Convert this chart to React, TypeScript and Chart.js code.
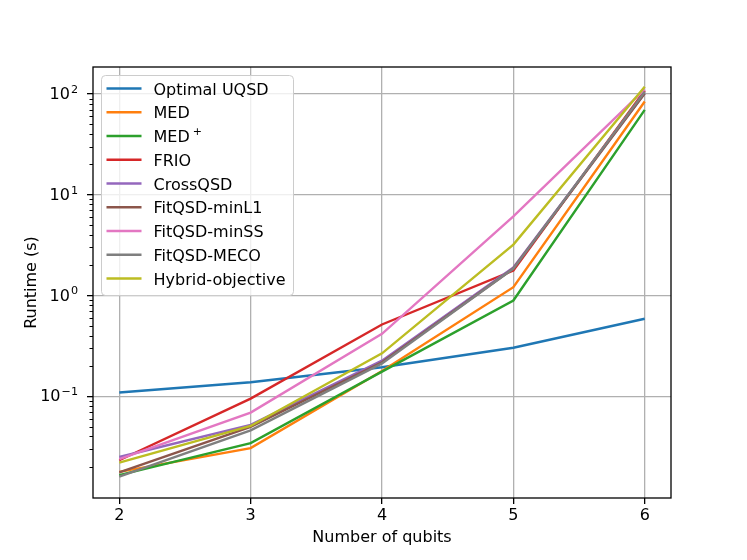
import { useEffect, useRef } from "react";
import { Chart, registerables } from "chart.js";

Chart.register(...registerables);

const qubits = [2, 3, 4, 5, 6];
const seriesNames = [
  "Optimal UQSD",
  "MED",
  "MED^+",
  "FRIO",
  "CrossQSD",
  "FitQSD-minL1",
  "FitQSD-minSS",
  "FitQSD-MECO",
  "Hybrid-objective",
];
const optimalUQSD = [0.109, 0.138, 0.194, 0.303, 0.588];
const med = [0.0178, 0.0306, 0.178, 1.21, 84];
const medPlus = [0.0165, 0.0343, 0.176, 0.892, 69.5];
const frio = [0.0232, 0.0948, 0.516, 1.77, 108];
const crossQSD = [0.025, 0.052, 0.226, 1.9, 102];
const fitMinL1 = [0.0176, 0.0497, 0.218, 1.85, 101];
const fitMinSS = [0.0238, 0.069, 0.417, 6.1, 111];
const fitMECO = [0.016, 0.046, 0.212, 1.85, 105];
const hybrid = [0.022, 0.0508, 0.267, 3.2, 118];
const seriesValues = [optimalUQSD, med, medPlus, frio, crossQSD, fitMinL1, fitMinSS, fitMECO, hybrid];
const seriesColors = [
  "#1f77b4",
  "#ff7f0e",
  "#2ca02c",
  "#d62728",
  "#9467bd",
  "#8c564b",
  "#e377c2",
  "#7f7f7f",
  "#bcbd22",
];
const yTickValues = [0.1, 1, 10, 100];
const yTickBase = "10";
const yTickExponents = ["−1", "0", "1", "2"];
const xTickValues = [2, 3, 4, 5, 6];

const FONT = "'DejaVu Sans', sans-serif";

// draws "base^sup" text (sup as raised smaller text); returns width
function drawMath(ctx: CanvasRenderingContext2D, text: string, x: number, y: number, size: number, measureOnly = false) {
  const parts = text.split("^");
  ctx.font = `${size}px ${FONT}`;
  const bw = ctx.measureText(parts[0]).width;
  let total = bw;
  let supW = 0;
  if (parts.length > 1) {
    ctx.font = `${size * 0.7}px ${FONT}`;
    supW = ctx.measureText(parts[1]).width;
    total += supW + 1;
  }
  if (measureOnly) return total;
  ctx.font = `${size}px ${FONT}`;
  ctx.fillText(parts[0], x, y);
  if (parts.length > 1) {
    ctx.font = `${size * 0.7}px ${FONT}`;
    ctx.fillText(parts[1], x + bw + 1, y - size * 0.38);
  }
  return total;
}

const framePlugin = {
  id: "frameAndMinor",
  afterDatasetsDraw(chart: any) {
    const { ctx, chartArea } = chart;
    const ys = chart.scales.y;
    ctx.save();
    ctx.strokeStyle = "#000";
    ctx.lineWidth = 1;
    for (let k = -3; k <= 3; k++) {
      for (let m = 2; m <= 9; m++) {
        const v = m * Math.pow(10, k);
        if (v <= ys.min || v >= ys.max) continue;
        const y = Math.round(ys.getPixelForValue(v)) + 0.5;
        ctx.beginPath();
        ctx.moveTo(chartArea.left - 3.5, y);
        ctx.lineTo(chartArea.left, y);
        ctx.stroke();
      }
    }
    ctx.lineWidth = 1.3;
    ctx.strokeRect(chartArea.left, chartArea.top, chartArea.right - chartArea.left, chartArea.bottom - chartArea.top);
    // y tick labels with superscript exponents
    ctx.fillStyle = "#000";
    ctx.textAlign = "left";
    ctx.textBaseline = "alphabetic";
    for (let i = 0; i < yTickValues.length; i++) {
      const y = ys.getPixelForValue(yTickValues[i]);
      const label = `${yTickBase}^${yTickExponents[i]}`;
      const w = drawMath(ctx, label, 0, 0, 16, true) as number;
      drawMath(ctx, label, chartArea.left - 15 - w, y + 5, 16);
    }
    ctx.restore();
  },
  afterDraw(chart: any) {
    const { ctx, chartArea } = chart;
    const ds = chart.data.datasets;
    const x0 = chartArea.left + 8.5;
    const y0 = chartArea.top + 8.5;
    const w = 192;
    const h = 220;
    ctx.save();
    ctx.beginPath();
    (ctx as any).roundRect(x0, y0, w, h, 4);
    ctx.fillStyle = "rgba(255,255,255,0.8)";
    ctx.fill();
    ctx.strokeStyle = "#cccccc";
    ctx.lineWidth = 1;
    ctx.stroke();
    ctx.textBaseline = "alphabetic";
    ctx.textAlign = "left";
    for (let i = 0; i < ds.length; i++) {
      const cy = y0 + 13 + i * 23.75;
      ctx.strokeStyle = ds[i].borderColor;
      ctx.lineWidth = 2.4;
      ctx.beginPath();
      ctx.moveTo(x0 + 5, cy);
      ctx.lineTo(x0 + 40, cy);
      ctx.stroke();
      ctx.fillStyle = "#000";
      const parts = String(ds[i].label).split("^");
      ctx.font = `16px ${FONT}`;
      ctx.fillText(parts[0], x0 + 52, cy + 6);
      if (parts.length > 1) {
        const bw = ctx.measureText(parts[0]).width;
        ctx.font = `11px ${FONT}`;
        ctx.fillText(parts[1], x0 + 52 + bw + 3, cy - 1);
      }
    }
    ctx.restore();
  },
};

export default function App() {
  const ref = useRef<HTMLCanvasElement | null>(null);
  useEffect(() => {
    if (!ref.current) return;
    const chart = new Chart(ref.current, {
      type: "line",
      data: {
        datasets: seriesNames.map((name, i) => ({
          label: name,
          data: qubits.map((q, j) => ({ x: q, y: seriesValues[i][j] })),
          borderColor: seriesColors[i],
          backgroundColor: seriesColors[i],
          borderWidth: 2.4,
          pointRadius: 0,
          fill: false,
          tension: 0,
          order: -i,
        })),
      },
      options: {
        responsive: false,
        animation: false,
        devicePixelRatio: 1,
        layout: { padding: { left: 0, top: 67, right: 76, bottom: 0 } },
        plugins: { legend: { display: false }, tooltip: { enabled: false } },
        scales: {
          x: {
            type: "linear",
            min: 1.8,
            max: 6.2,
            afterBuildTicks: (s: any) => {
              s.ticks = xTickValues.map((v) => ({ value: v }));
            },
            afterFit: (s: any) => {
              s.height = 62;
            },
            ticks: {
              color: "#000",
              font: { family: FONT, size: 16 },
              padding: 2,
              maxRotation: 0,
              callback: (v: any) => String(v),
            },
            grid: { color: "#b0b0b0", lineWidth: 1.3, tickColor: "#000", tickLength: 6, tickWidth: 1.3 },
            border: { display: false },
            title: {
              display: true,
              text: "Number of qubits",
              color: "#000",
              font: { family: FONT, size: 16 },
              padding: { top: 0, bottom: 13 },
            },
          },
          y: {
            type: "logarithmic",
            min: 0.0098,
            max: 185,
            afterBuildTicks: (s: any) => {
              s.ticks = yTickValues.map((v) => ({ value: v }));
            },
            afterFit: (s: any) => {
              s.width = 93;
            },
            ticks: {
              color: "rgba(0,0,0,0)",
              font: { family: FONT, size: 16 },
              padding: 8,
              callback: () => "",
            },
            grid: { color: "#b0b0b0", lineWidth: 1.3, tickColor: "#000", tickLength: 6, tickWidth: 1.3 },
            border: { display: false },
            title: {
              display: true,
              text: "Runtime (s)",
              color: "#000",
              font: { family: FONT, size: 16 },
              padding: { top: 22, bottom: 0 },
            },
          },
        },
      },
      plugins: [framePlugin],
    });
    return () => chart.destroy();
  }, []);
  return (
    <div style={{ position: "fixed", left: 0, top: 0, width: 747, height: 560, background: "#fff" }}>
      <canvas ref={ref} width={747} height={560} style={{ width: 747, height: 560 }} />
    </div>
  );
}
